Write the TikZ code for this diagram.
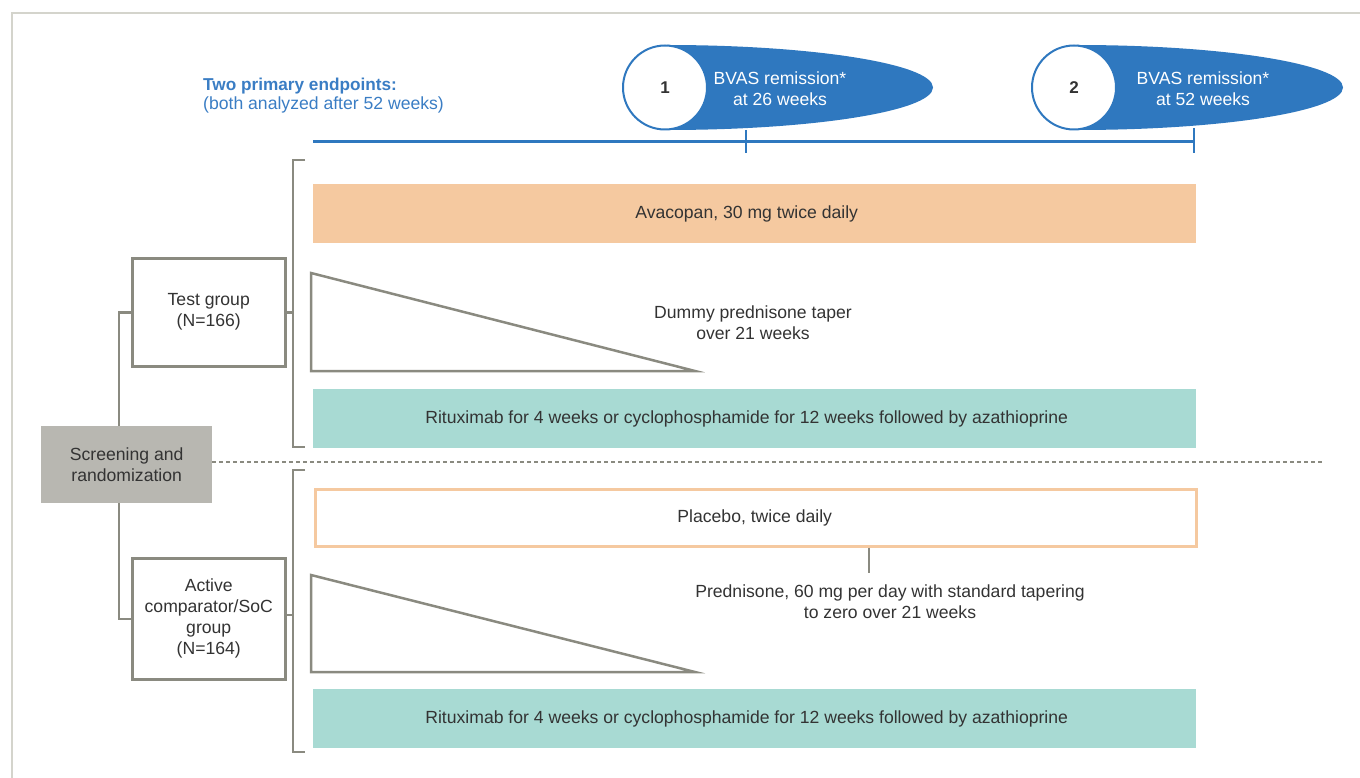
\documentclass[tikz,border=0pt]{standalone}
\usepackage{fontspec}
\setmainfont{Liberation Sans}
\usetikzlibrary{calc}
\definecolor{bblue}{HTML}{2F78BF}
\definecolor{tblue}{HTML}{3A7DC4}
\definecolor{lgray}{HTML}{8A8A80}
\definecolor{orng}{HTML}{F5C9A0}
\definecolor{tealbar}{HTML}{A8DAD3}
\definecolor{scrgray}{HTML}{B8B7B1}
\definecolor{txt}{HTML}{333333}
\definecolor{framecol}{HTML}{D4D4CC}
\begin{document}
\begin{tikzpicture}[x=1pt,y=-1pt,
  every node/.style={font=\fontsize{17.6}{21}\selectfont, text=txt, align=center, inner sep=0pt},
  bar/.style={minimum width=883pt, minimum height=59pt, anchor=north west},
  grp/.style={draw=lgray, line width=2.5pt, fill=white, minimum width=153pt, anchor=north west},
  gline/.style={draw=lgray, line width=2.5pt},
  bline/.style={draw=bblue, line width=2.5pt},
  bubtxt/.style={text=white},
  numc/.style={circle, draw=bblue, line width=2pt, fill=white, minimum size=84pt, font=\fontsize{17}{20}\selectfont\bfseries}]
\useasboundingbox (0,0) rectangle (1360,778);
\draw[framecol, line width=2pt] (12,778) -- (12,13) -- (1360,13);

% header
\node[anchor=west, text=tblue, font=\fontsize{17.2}{21}\selectfont\bfseries] (hd1) at (203,86) {Two primary endpoints:};
\node[anchor=west, text=tblue] (hd2) at (203,105) {(both analyzed after 52 weeks)};

% bubbles
\fill[bblue] (667,45) arc[start angle=-90, end angle=90, x radius=266, y radius=42.5] -- cycle;
\node[numc] (c1) at (665,87.5) {1};
\node[bubtxt] (b1) at (780,89) {BVAS remission*\\at 26 weeks};
\fill[bblue] (1077,45) arc[start angle=-90, end angle=90, x radius=266, y radius=42.5] -- cycle;
\node[numc] (c2) at (1074,87.5) {2};
\node[bubtxt] (b2) at (1203,89) {BVAS remission*\\at 52 weeks};

% timeline
\coordinate (tl0) at (313,142);
\coordinate (tl1) at (1194,142);
\draw[bline, line width=3pt] (tl0) -- (tl1);
\draw[bline, line width=2pt] (746,130) -- (746,153);
\draw[bline, line width=2pt] (1194,128) -- (1194,153);

% screening
\node[fill=scrgray, minimum width=171pt, minimum height=77pt, anchor=north west] (scr) at (41,426) {Screening and\\randomization};
\node[grp, minimum height=108pt] (test) at (131,257) {Test group\\(N=166)};
\node[grp, minimum height=121pt] (act) at (131,557) {Active\\comparator/SoC\\group\\(N=164)};
\coordinate (sx) at (119,0);
\draw[gline] (scr.north -| sx) |- (test.west);
\draw[gline] (scr.south -| sx) |- (act.west);
\draw[lgray, line width=2pt, dash pattern=on 4pt off 3pt] (scr.east |- 0,462) -- (1325,462);

% brackets
\coordinate (bx) at (293,0);
\draw[gline] (305,160) -- (293,160) -- (293,447) -- (305,447);
\draw[gline] (test.east) -- (test.east -| bx);
\draw[gline] (305,470) -- (293,470) -- (293,752) -- (305,752);
\draw[gline] (act.east |- 0,615) -- (bx |- 0,615);

% top group arms
\node[bar, fill=orng] (ava) at (313,184) {\hspace*{-16pt}Avacopan, 30 mg twice daily};
\draw[gline] (311,273) -- (311,371) -- (695,371) -- cycle;
\node (dum) at (753,323) {Dummy prednisone taper\\over 21 weeks};
\node[bar, fill=tealbar] (rit1) at (313,389) {\hspace*{-16pt}Rituximab for 4 weeks or cyclophosphamide for 12 weeks followed by azathioprine};

% bottom group arms
\node[bar, draw=orng, line width=2.5pt, fill=white, minimum width=881pt, minimum height=57pt] (plac) at (314,488) {\hspace*{-2pt}Placebo, twice daily};
\node (pred) at (890,602) {Prednisone, 60 mg per day with standard tapering\\to zero over 21 weeks};
\draw[gline, line width=2pt] (plac.south -| 869,0) -- (869,573);
\draw[gline] (311,575) -- (311,672) -- (695,672) -- cycle;
\node[bar, fill=tealbar] (rit2) at (313,689) {\hspace*{-16pt}Rituximab for 4 weeks or cyclophosphamide for 12 weeks followed by azathioprine};
\end{tikzpicture}
\end{document}
